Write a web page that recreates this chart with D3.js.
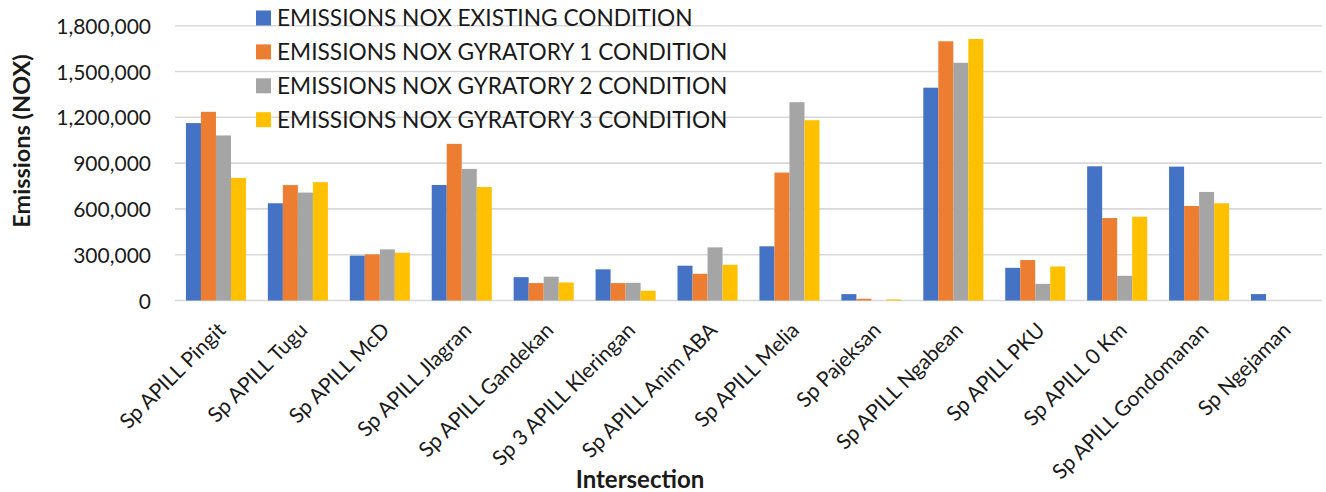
<!DOCTYPE html>
<html>
<head>
<meta charset="utf-8">
<script src="https://cdn.jsdelivr.net/npm/d3@7"></script>
<style>
  html, body { margin: 0; padding: 0; background: #fff; }
  svg { display: block; font-family: Lato, "Open Sans", sans-serif; }
</style>
</head>
<body>
<svg id="chart" width="1326" height="492"></svg>
<script>
// Intersections along the x axis
const categories = [
  "Sp APILL Pingit", "Sp APILL Tugu", "Sp APILL McD", "Sp APILL Jlagran",
  "Sp APILL Gandekan", "Sp 3 APILL Kleringan", "Sp APILL Anim ABA", "Sp APILL Melia",
  "Sp Pajeksan", "Sp APILL Ngabean", "Sp APILL PKU", "Sp APILL 0 Km",
  "Sp APILL Gondomanan", "Sp Ngejaman"
];

// NOx emissions per scenario
const existing  = [1162000, 637000, 294000, 757000, 153000, 204000, 228000, 355000, 42000, 1394000, 214000, 879000, 877000, 42000];
const gyratory1 = [1236000, 756000, 302000, 1026000, 114000, 114000, 175000, 838000, 11000, 1698000, 265000, 540000, 619000, 0];
const gyratory2 = [1081000, 707000, 335000, 862000, 156000, 116000, 348000, 1299000, 0, 1557000, 109000, 162000, 711000, 0];
const gyratory3 = [803000, 775000, 313000, 743000, 118000, 64000, 234000, 1181000, 7000, 1713000, 223000, 549000, 637000, 0];

const seriesNames = [
  "EMISSIONS NOX EXISTING CONDITION",
  "EMISSIONS NOX GYRATORY 1 CONDITION",
  "EMISSIONS NOX GYRATORY 2 CONDITION",
  "EMISSIONS NOX GYRATORY 3 CONDITION"
];
const seriesColors = ["#4472C4", "#ED7D31", "#A5A5A5", "#FFC000"];
const yTicks = [0, 300000, 600000, 900000, 1200000, 1500000, 1800000];

const seriesValues = [existing, gyratory1, gyratory2, gyratory3];

const svg = d3.select("#chart");
const plotLeft = 175, plotRight = 1322, plotBottom = 300.5, plotTop = 25.7;

const x = d3.scaleBand().domain(categories).range([plotLeft, plotRight])
  .paddingInner(0.267).paddingOuter(0.1335);
const xs = d3.scaleBand().domain(d3.range(seriesNames.length)).range([0, x.bandwidth()]);
const y = d3.scaleLinear().domain([0, 1800000]).range([plotBottom, plotTop]);

// Gridlines
svg.append("g").selectAll("line").data(yTicks).join("line")
  .attr("x1", plotLeft).attr("x2", plotRight)
  .attr("y1", d => y(d)).attr("y2", d => y(d))
  .attr("stroke", "#D9D9D9").attr("stroke-width", 1.6);

// Y axis labels
const yAxis = svg.append("g").attr("transform", "translate(151,0)")
  .call(d3.axisLeft(y).tickValues(yTicks).tickFormat(d3.format(",")).tickSize(0).tickPadding(0));
yAxis.select(".domain").remove();
yAxis.selectAll("text").attr("font-size", 21).attr("fill", "#1a1a1a")
  .attr("font-family", "Lato, sans-serif").attr("dy", "0.36em");

// Bars
const groups = svg.append("g").selectAll("g").data(categories).join("g")
  .attr("transform", d => `translate(${x(d)},0)`);
groups.selectAll("rect")
  .data((c, i) => seriesValues.map((vals, s) => ({ s, v: vals[i] })))
  .join("rect")
  .attr("x", d => xs(d.s))
  .attr("width", xs.bandwidth())
  .attr("y", d => y(d.v))
  .attr("height", d => plotBottom - y(d.v))
  .attr("fill", d => seriesColors[d.s]);

// X axis labels, rotated 45 degrees
const xAxis = svg.append("g").attr("transform", `translate(0,${plotBottom})`)
  .call(d3.axisBottom(x).tickSize(0).tickPadding(0));
xAxis.select(".domain").remove();
xAxis.selectAll("text")
  .attr("font-size", 21).attr("fill", "#1a1a1a").attr("font-family", "Lato, sans-serif")
  .attr("text-anchor", "end")
  .attr("dy", null).attr("y", 0)
  .attr("transform", "translate(11,31) rotate(-45)");

// Axis titles
svg.append("text").attr("x", 640).attr("y", 488)
  .attr("text-anchor", "middle").attr("font-weight", "bold").attr("font-size", 24)
  .attr("fill", "#1a1a1a").text("Intersection");
svg.append("text").attr("transform", "translate(30,141) rotate(-90)")
  .attr("text-anchor", "middle").attr("font-weight", "bold").attr("font-size", 23.5)
  .attr("fill", "#1a1a1a").text("Emissions (NOX)");

// Legend
const legend = svg.append("g").selectAll("g").data(seriesNames).join("g")
  .attr("transform", (d, i) => `translate(256,${18 + i * 33.9})`);
legend.append("rect").attr("x", 0).attr("y", -7.5).attr("width", 15).attr("height", 15)
  .attr("fill", (d, i) => seriesColors[i]);
legend.append("text").attr("x", 21).attr("y", 0).attr("dy", "0.36em")
  .attr("font-size", 22.7).attr("fill", "#1a1a1a").text(d => d);
</script>
</body>
</html>
